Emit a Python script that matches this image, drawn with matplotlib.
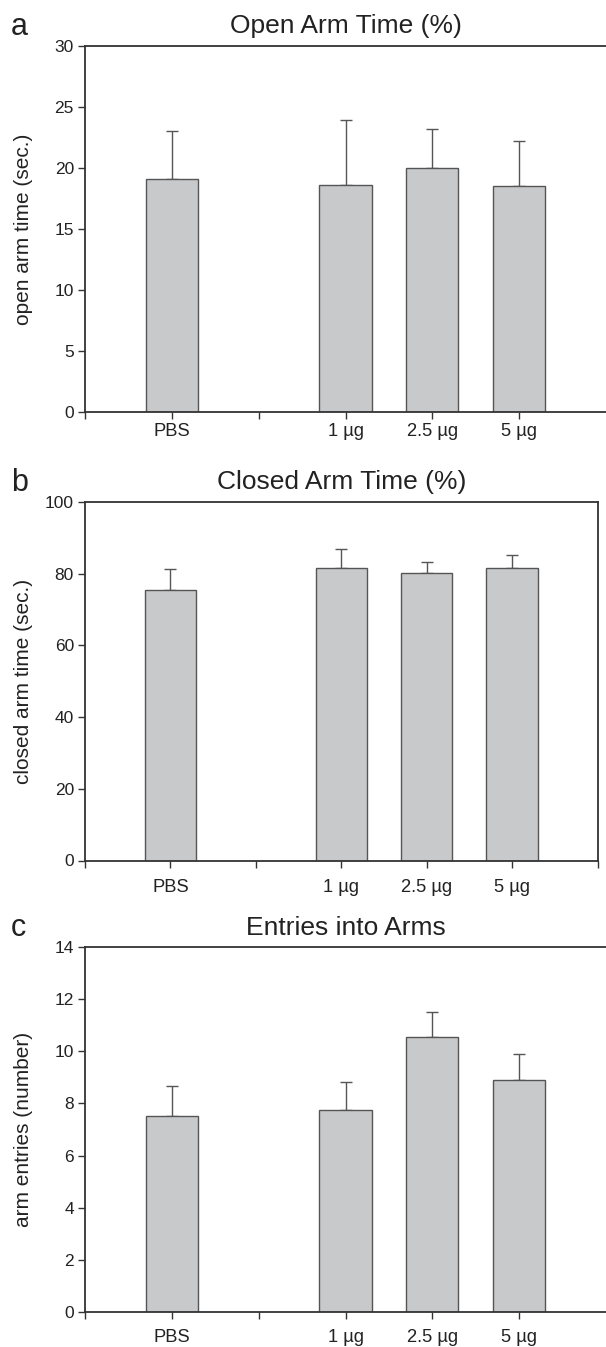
import matplotlib
matplotlib.use("Agg")
import matplotlib.pyplot as plt
import numpy as np

# ---- data ----
tick_labels = ['', 'PBS', '', '1 µg', '2.5 µg', '5 µg', '']
categories = ['PBS', '1 µg', '2.5 µg', '5 µg']

open_mean = [19.1, 18.6, 20.0, 18.55]
open_err = [3.9, 5.35, 3.2, 3.7]

closed_mean = [75.4, 81.5, 80.1, 81.6]
closed_err = [5.85, 5.4, 3.2, 3.7]

entries_mean = [7.5, 7.75, 10.55, 8.9]
entries_err = [1.17, 1.06, 0.94, 1.0]

panel_letters = ['a', 'b', 'c']
titles = ['Open Arm Time (%)', 'Closed Arm Time (%)', 'Entries into Arms']
ylabels = ['open arm time (sec.)', 'closed arm time (sec.)', 'arm entries (number)']
yticks_list = [[0, 5, 10, 15, 20, 25, 30],
               [0, 20, 40, 60, 80, 100],
               [0, 2, 4, 6, 8, 10, 12, 14]]

plt.rcParams['font.family'] = ['Liberation Sans', 'DejaVu Sans']

W, H = 606, 1347
fig = plt.figure(figsize=(W / 100, H / 100), dpi=100)

# axes rectangles in pixels: left, top, right, bottom
rects_px = [(85, 46, 606, 412),
            (85, 502, 597.5, 860.5),
            (85, 947, 606, 1312)]
xpads = [2.6, 8.6, 7.4]
n_xticks = [6, 7, 6]

text_col = '#222222'
spine_col = '#333333'
bar_face = '#c8c9cb'
bar_edge = '#555555'

means = [open_mean, closed_mean, entries_mean]
errs = [open_err, closed_err, entries_err]
show_right = [False, True, False]

xpos = np.array([tick_labels.index(c) for c in categories], dtype=float)

for i in range(3):
    l, t, r, b = rects_px[i]
    ax = fig.add_axes([l / W, 1 - b / H, (r - l) / W, (b - t) / H])
    m = np.array(means[i])
    e = np.array(errs[i])
    ax.bar(xpos, m, width=0.6, color=bar_face, edgecolor=bar_edge,
           linewidth=1.0, zorder=2)
    ax.errorbar(xpos, m, yerr=[np.zeros_like(e), e], fmt='none',
                ecolor='#555555', elinewidth=1.0, capsize=4, capthick=1.0,
                zorder=1)
    ax.set_xlim(0, 6)
    yt = yticks_list[i]
    ax.set_ylim(yt[0], yt[-1])
    ax.set_yticks(yt)
    ax.set_yticklabels([str(v) for v in yt])
    nt = n_xticks[i]
    ax.set_xticks(range(nt))
    ax.set_xticklabels(tick_labels[:nt])
    for s in ['left', 'bottom', 'top', 'right']:
        ax.spines[s].set_color(spine_col)
        ax.spines[s].set_linewidth(1.3)
    ax.spines['right'].set_visible(show_right[i])
    ax.tick_params(axis='both', direction='out', length=5, width=1.0,
                   color=spine_col, labelcolor=text_col)
    ax.tick_params(axis='y', pad=3, labelsize=12.5)
    ax.tick_params(axis='x', pad=xpads[i], labelsize=13.2)
    ax.set_title(titles[i], fontsize=19, color=text_col, pad=9)
    fig.text(24 / W, 1 - ((t + b) / 2) / H, ylabels[i], rotation=90,
             ha='center', va='center', fontsize=15, color=text_col)
    fig.text(11 / W, 1 - (t - 11) / H, panel_letters[i], ha='left',
             va='baseline', fontsize=22, color=text_col)

fig.savefig('out.png', dpi=100)
